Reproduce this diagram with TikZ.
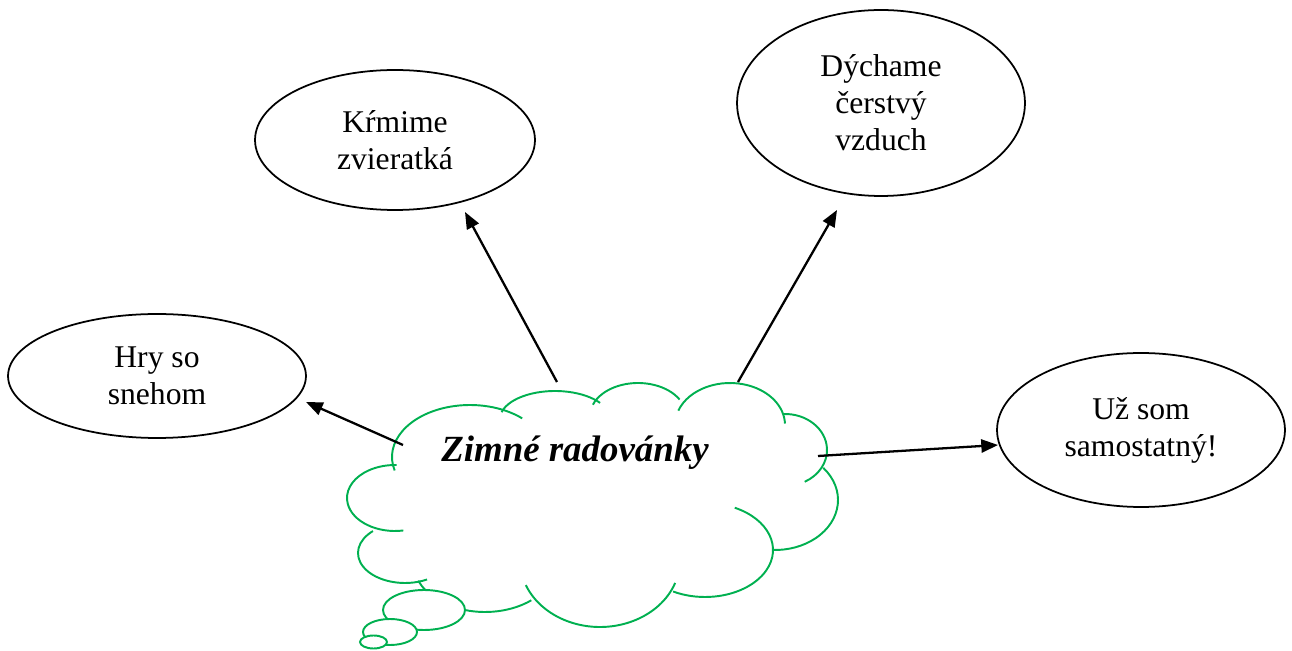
\documentclass[tikz,border=0pt]{standalone}
\usepackage{fontspec}
\setmainfont{Liberation Serif}
\usetikzlibrary{arrows.meta, shapes.geometric}
\definecolor{cloudgreen}{RGB}{0,176,80}

\begin{document}
\begin{tikzpicture}[x=0.02cm, y=-0.02cm, >={Triangle[length=9.5pt, width=7.5pt]},
    idea/.style={draw, ellipse, line width=1pt, inner sep=0pt, align=center,
      font=\fontsize{18}{21}\selectfont},
    cloudline/.style={draw=cloudgreen, line width=1.1pt},
    pointer/.style={->, line width=1.3pt}]

    \useasboundingbox (0,0) rectangle (1292,651);

    % the thought cloud, bump by bump:
    \foreach \cx/\cy/\rx/\ry/\a/\b in {470/457/78/52/165/312, 555/419/55/28/194/325,
        638/416/48/33/200/330, 730/425/55/42/200/358, 785/450/42/36/268/422,
        775/500/63/50/-40/92, 705/550/68/47/-64/118, 600/560/80/67/20/158,
        485/562/72/50/50/158, 405/553/47/30/62/227, 395/498/48/33/80/272}
      \draw[cloudline] (\cx,\cy) ++(\a:{\rx} and {\ry})
        arc[start angle=\a, end angle=\b, x radius=\rx, y radius=\ry];

    % small bubbles of the thought:
    \draw[cloudline, fill=white] (424,610) ellipse[x radius=41, y radius=20];
    \draw[cloudline, fill=white] (390,632) ellipse[x radius=27, y radius=13];
    \draw[cloudline, fill=white] (373.5,642) ellipse[x radius=13.5, y radius=6.5];

    \node[anchor=base, font=\fontsize{21}{25}\selectfont\bfseries\itshape] (theme) at (575,462) {Zimné radovánky};

    % the four ideas:
    \node[idea, minimum width=5.96cm, minimum height=2.48cm] (snow) at (157,376) {Hry so\\snehom};
    \node[idea, minimum width=5.6cm, minimum height=2.8cm] (feed) at (395,140) {Kŕmime\\zvieratká};
    \node[idea, minimum width=5.76cm, minimum height=3.72cm] (air) at (881,103) {Dýchame\\čerstvý\\vzduch};
    \node[idea, minimum width=5.76cm, minimum height=3.08cm] (alone) at (1141,430) {Už som\\samostatný!};

    % arrows from the cloud:
    \coordinate (fromsnow) at (403,445);
    \coordinate (tosnow) at (306,402);
    \coordinate (fromfeed) at (557,382);
    \coordinate (tofeed) at (465,212);
    \coordinate (fromair) at (738,382);
    \coordinate (toair) at (837,210);
    \coordinate (fromalone) at (818,456);
    \coordinate (toalone) at (998,445);

    \draw[pointer] (fromsnow) -- (tosnow);
    \draw[pointer] (fromfeed) -- (tofeed);
    \draw[pointer] (fromair) -- (toair);
    \draw[pointer] (fromalone) -- (toalone);

\end{tikzpicture}
\end{document}
